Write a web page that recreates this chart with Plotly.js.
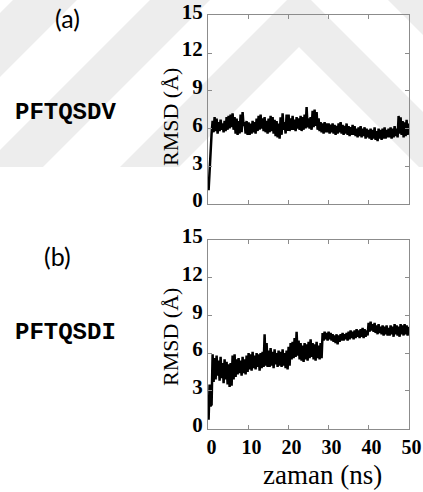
<!DOCTYPE html>
<html>
<head>
<meta charset="utf-8">
<script src="https://cdn.plot.ly/plotly-3.0.1.min.js"></script>
<style>
  html, body { margin: 0; padding: 0; background: #ffffff; }
  #chart { width: 423px; height: 492px; }
</style>
</head>
<body>
<div id="chart"></div>
<script>
// RMSD traces (Å), sampled every 0.25 ns from 0 to 50 ns.
const timeStepNs = 0.25;

const rmsdPFTQSDV = [
  1.1, 3.0, 4.6, 5.6, 6.6, 5.7, 6.9, 5.8, 6.8, 5.6, 6.5, 5.8, 6.7, 5.9, 6.4, 5.7, 6.6, 5.8, 6.9, 5.9,
  7.0, 6.0, 7.1, 6.1, 7.2, 5.9, 6.9, 5.6, 6.8, 5.5, 6.6, 5.6, 7.1, 5.7, 7.3, 6.2, 6.5, 5.6, 6.6, 5.5,
  6.5, 5.5, 6.4, 5.6, 6.6, 5.7, 6.5, 5.6, 6.8, 5.8, 7.0, 5.9, 7.1, 6.0, 6.8, 5.8, 6.9, 5.7, 6.6, 5.6,
  6.8, 5.7, 7.0, 5.8, 6.9, 5.6, 6.7, 5.4, 6.6, 5.3, 6.4, 5.2, 6.9, 5.5, 7.2, 5.9, 6.5, 5.6, 7.1, 5.8,
  7.1, 5.8, 6.8, 5.9, 7.0, 5.9, 6.7, 5.8, 6.9, 6.0, 6.8, 5.9, 7.0, 5.8, 6.9, 5.9, 7.1, 6.0, 7.7, 6.1,
  6.8, 6.0, 6.9, 5.9, 7.4, 6.1, 7.5, 6.2, 7.3, 5.9, 6.8, 5.8, 6.5, 5.7, 6.4, 5.6, 6.5, 5.7, 6.4, 5.7,
  6.4, 5.6, 6.3, 5.7, 6.4, 5.6, 6.3, 5.5, 6.2, 5.6, 6.4, 5.7, 6.5, 5.6, 6.3, 5.5, 6.2, 5.6, 6.4, 5.5,
  6.2, 5.4, 6.1, 5.5, 6.3, 5.5, 6.2, 5.4, 6.0, 5.3, 6.1, 5.4, 6.2, 5.3, 6.0, 5.4, 6.1, 5.2, 6.0, 5.3,
  5.9, 5.2, 6.0, 5.1, 5.9, 5.2, 6.1, 5.1, 5.8, 5.0, 6.0, 5.2, 5.9, 5.1, 6.0, 5.2, 6.1, 5.2, 5.9, 5.3,
  6.0, 5.3, 6.1, 5.2, 6.0, 5.3, 6.2, 5.4, 6.0, 5.3, 7.0, 5.6, 6.9, 5.5, 6.6, 5.3, 6.5, 5.4, 6.7, 5.5,
  6.4
];

const rmsdPFTQSDI = [
  0.7, 3.5, 1.8, 1.9, 5.9, 3.7, 5.6, 3.9, 5.8, 4.2, 5.4, 3.8, 5.7, 4.0, 5.2, 3.6, 5.5, 3.9, 5.3, 3.5,
  5.1, 3.3, 5.2, 3.4, 5.8, 3.9, 5.9, 4.1, 5.5, 4.3, 5.6, 4.4, 5.4, 4.2, 5.7, 4.4, 5.5, 4.3, 5.8, 4.5,
  6.0, 4.7, 5.9, 4.6, 6.1, 4.8, 5.8, 4.7, 6.0, 4.9, 5.9, 4.6, 6.0, 4.8, 6.1, 4.9, 7.5, 5.0, 6.8, 4.9,
  6.2, 4.9, 6.4, 5.0, 6.1, 4.8, 6.3, 5.1, 6.0, 4.9, 6.2, 5.0, 6.1, 4.9, 6.3, 5.0, 6.0, 4.8, 6.2, 4.7,
  6.5, 5.0, 6.8, 5.5, 6.9, 5.6, 7.2, 5.7, 7.7, 5.8, 7.0, 5.5, 6.8, 5.4, 6.6, 5.3, 6.8, 5.5, 6.7, 5.4,
  6.9, 5.6, 7.1, 5.7, 6.8, 5.5, 6.7, 5.4, 6.9, 5.6, 6.6, 5.5, 6.8, 5.6, 7.6, 7.0, 7.7, 7.1, 7.6, 7.0,
  7.7, 7.1, 7.6, 7.0, 7.5, 6.9, 7.4, 6.8, 7.5, 6.7, 7.4, 6.9, 7.5, 7.0, 7.6, 7.0, 7.5, 7.1, 7.6, 7.0,
  7.7, 7.1, 7.8, 7.2, 7.7, 7.1, 7.8, 7.2, 7.9, 7.3, 7.8, 7.2, 7.9, 7.3, 8.0, 7.2, 7.9, 7.3, 7.8, 7.4,
  8.4, 7.7, 8.5, 7.8, 8.3, 7.7, 8.4, 7.6, 8.2, 7.5, 8.3, 7.6, 8.1, 7.5, 8.2, 7.4, 8.1, 7.5, 8.2, 7.4,
  8.0, 7.4, 8.2, 7.5, 8.1, 7.3, 8.3, 7.5, 8.2, 7.4, 8.1, 7.3, 8.3, 7.5, 8.2, 7.4, 8.3, 7.5, 8.2, 7.4,
  8.1
];

const timeTicks = [0, 10, 20, 30, 40, 50];
const rmsdTicks = [0, 3, 6, 9, 12, 15];
const panelLetters = ['(a)', '(b)'];
const peptideNames = ['PFTQSDV', 'PFTQSDI'];
const yTitle = 'RMSD (Å)';
const xTitle = 'zaman (ns)';

const W = 423, H = 492;
const px = x => x / W;          // pixel -> paper (x)
const py = y => 1 - y / H;      // pixel -> paper (y)

const timesFor = arr => arr.map((_, i) => i * timeStepNs);
const boldLabels = vals => vals.map(v => '<b>' + v + '</b>');

const frameColor = '#8c8c8c';
const serif = 'Liberation Serif';
const sans = 'Lato';
const mono = 'Liberation Mono';

function xAxis(anchor, showLabels) {
  return {
    anchor: anchor,
    domain: [px(208), px(409)],
    range: [-0.15, 50.1],
    tickmode: 'array',
    tickvals: timeTicks,
    ticktext: boldLabels(timeTicks),
    showticklabels: showLabels,
    ticks: 'inside', ticklen: 4, tickwidth: 1, tickcolor: frameColor,
    showline: true, linecolor: frameColor, linewidth: 1, mirror: 'ticks',
    showgrid: false, zeroline: false,
    tickfont: { family: serif, size: 20, color: '#000' },
    ticklabelshift: 3,
    ticklabelstandoff: 0,
    ticklabeloverflow: 'allow',
    automargin: false
  };
}

function yAxis(anchor, top, bottom) {
  return {
    anchor: anchor,
    domain: [py(bottom), py(top)],
    range: [0, 15],
    tickmode: 'array',
    tickvals: rmsdTicks,
    ticktext: boldLabels(rmsdTicks),
    ticks: 'inside', ticklen: 4, tickwidth: 1, tickcolor: frameColor,
    showline: true, linecolor: frameColor, linewidth: 1, mirror: 'ticks',
    showgrid: false, zeroline: false,
    tickfont: { family: serif, size: 21, color: '#000' },
    ticklabelshift: -4,
    ticklabelstandoff: 0,
    ticklabeloverflow: 'allow',
    automargin: false
  };
}

const traces = [
  {
    x: timesFor(rmsdPFTQSDV), y: rmsdPFTQSDV,
    xaxis: 'x', yaxis: 'y', type: 'scatter', mode: 'lines',
    line: { color: '#000000', width: 2.5 }, hoverinfo: 'skip'
  },
  {
    x: timesFor(rmsdPFTQSDI), y: rmsdPFTQSDI,
    xaxis: 'x2', yaxis: 'y2', type: 'scatter', mode: 'lines',
    line: { color: '#000000', width: 2.5 }, hoverinfo: 'skip'
  }
];

// Faint chevron watermark in the page background (pixel polygons -> paper paths)
function polyPath(points) {
  return 'M ' + points.map(p => px(p[0]).toFixed(5) + ',' + py(p[1]).toFixed(5)).join(' L ') + ' Z';
}
const chevrons = [
  [[120, 167], [179, 167], [299, 47], [419, 167], [478, 167], [299, -12]],
  [[-17, 167], [43, 167], [299, -89], [555, 167], [615, 167], [299, -149]],
  [[-154, 167], [-90, 167], [299, -222], [688, 167], [752, 167], [299, -286]]
];
const shapes = chevrons.map(pts => ({
  type: 'path', xref: 'paper', yref: 'paper', layer: 'below',
  path: polyPath(pts),
  fillcolor: '#ededed', line: { width: 0 }
}));

function note(text, x, y, font, angle) {
  return {
    text: text, xref: 'paper', yref: 'paper', x: px(x), y: py(y),
    xanchor: 'center', yanchor: 'middle', showarrow: false,
    textangle: angle || 0, font: font
  };
}

const annotations = [
  note(panelLetters[0], 67, 18, { family: sans, size: 25, color: '#000' }),
  note(panelLetters[1], 57, 256, { family: sans, size: 25, color: '#000' }),
  note('<b>' + peptideNames[0] + '</b>', 65, 112, { family: mono, size: 24, color: '#000' }),
  note('<b>' + peptideNames[1] + '</b>', 65, 332, { family: mono, size: 24, color: '#000' }),
  note(yTitle, 170, 117, { family: serif, size: 22, color: '#000' }, -90),
  note(yTitle, 170, 337, { family: serif, size: 22, color: '#000' }, -90),
  note(xTitle, 322, 475, { family: serif, size: 27, color: '#000' })
];

const layout = {
  width: W, height: H,
  margin: { l: 0, r: 0, t: 0, b: 0, pad: 0 },
  paper_bgcolor: '#ffffff',
  plot_bgcolor: 'rgba(0,0,0,0)',
  showlegend: false,
  xaxis: xAxis('y', false),
  yaxis: yAxis('x', 15.3, 204),
  xaxis2: xAxis('y2', true),
  yaxis2: yAxis('x2', 240, 428.5),
  shapes: shapes,
  annotations: annotations
};

Plotly.newPlot('chart', traces, layout, { staticPlot: true, displayModeBar: false });
</script>
</body>
</html>
